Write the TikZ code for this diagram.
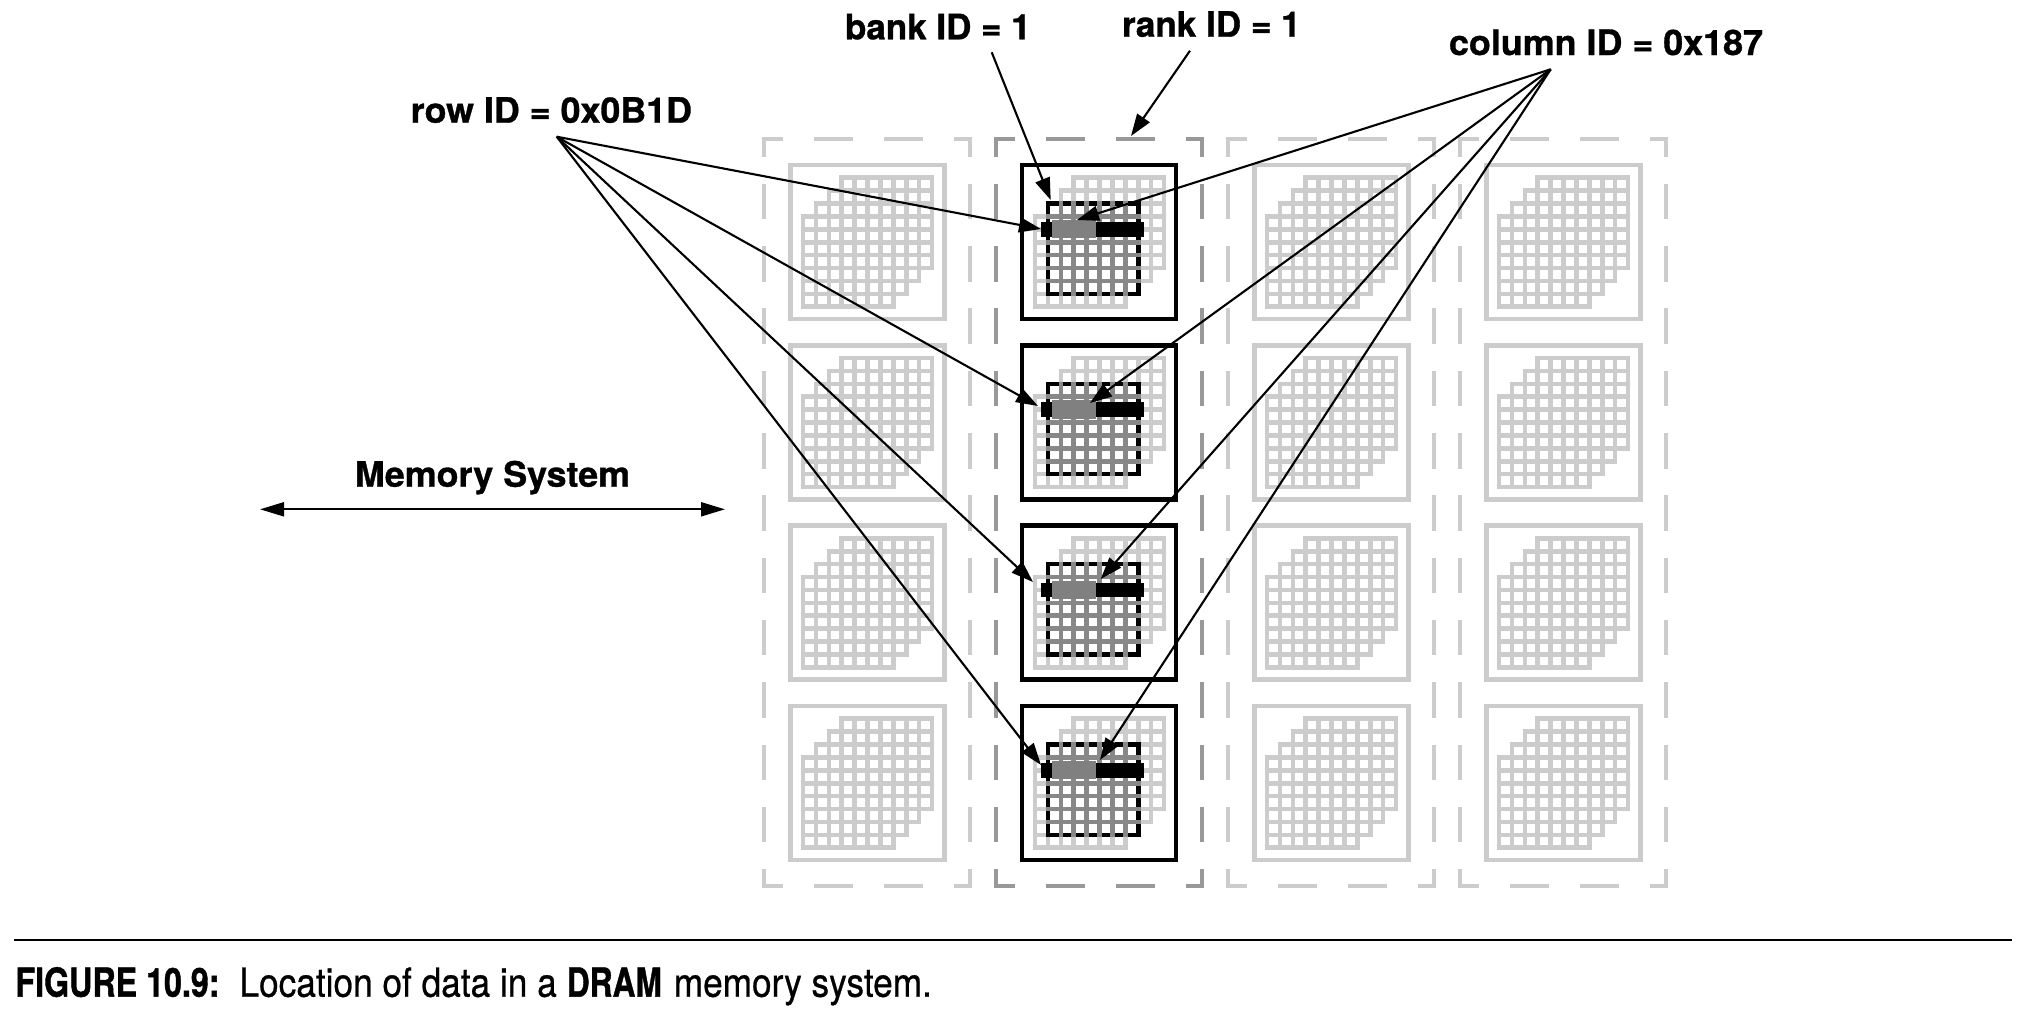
\documentclass[tikz,border=0pt]{standalone}
\usepackage{fontspec}
\usepackage{graphicx}
\setmainfont[BoldFeatures={FakeBold=0.9}]{TeX Gyre Heros}
\newfontfamily\capreg[FakeBold=0.7]{TeX Gyre Heros}
\newfontfamily\capbold[BoldFeatures={FakeBold=1.2}]{TeX Gyre Heros}
\usetikzlibrary{arrows.meta}
\definecolor{lightgr}{HTML}{CCCCCC}
\definecolor{midgr}{HTML}{999999}
\definecolor{darkgr}{HTML}{888888}
\tikzset{
  conn/.style={draw=black,line width=2.1pt,-{Triangle[length=22pt,width=15pt]}},
  bothends/.style={draw=black,line width=2.1pt,{Triangle[length=24pt,width=14pt]}-{Triangle[length=24pt,width=14pt]}},
  lbl/.style={inner sep=0pt,outer sep=0pt,anchor=base west,font=\fontsize{35}{35}\selectfont\bfseries},
  captext/.style={inner sep=0pt,outer sep=0pt,anchor=base west,font=\fontsize{40}{40}\selectfont},
  chipbox/.style={rectangle,draw=#1,line width=4.8pt,minimum width=154pt,minimum height=154pt,inner sep=0pt},
  gridline/.style={draw=#1,line width=4.6pt},
  rankdash/.style={draw=#1,line width=4.8pt},
}
\newcommand{\rankbox}[2]{% left x, colour
  \draw[rankdash=#2,dash pattern=on 39pt off 31pt,dash phase=18pt] ({#1-2},139) -- ({#1+208},139);
  \draw[rankdash=#2,dash pattern=on 39pt off 31pt,dash phase=18pt] ({#1-2},886) -- ({#1+208},886);
  \draw[rankdash=#2,dash pattern=on 35.5pt off 26.8pt,dash phase=15.5pt] (#1,137) -- (#1,888);
  \draw[rankdash=#2,dash pattern=on 35.5pt off 26.8pt,dash phase=15.5pt] ({#1+206},137) -- ({#1+206},888);
}
\newcommand{\bankgrid}[4]{% origin x, origin y, bank, colour
  \foreach \k in {0,...,7}{
    \draw[gridline=#4] ({#1+(#3+\k)*12.9},{#2+(3-#3)*12.9-2.3}) -- ++(0,{7*12.9+4.6});
    \draw[gridline=#4] ({#1+#3*12.9-2.3},{#2+(3-#3+\k)*12.9}) -- ++({7*12.9+4.6},0);
  }
}
\newcommand{\allbanks}[2]{%
  \foreach \b in {3,2,1,0}{\bankgrid{#1}{#2}{\b}{lightgr}}
}
\begin{document}
\begin{tikzpicture}[x=1pt,y=-1pt]
\useasboundingbox (0,0) rectangle (2036,1020);
\fill[white] (0,0) rectangle (2036,1020);
% ranks
\rankbox{764}{lightgr}
\rankbox{996}{midgr}
\rankbox{1228}{lightgr}
\rankbox{1460}{lightgr}
% chips of the unselected ranks
\foreach \r/\x in {0/764,2/1228,3/1460}{
  \foreach \c in {0,1,2,3}{
    \pgfmathsetmacro{\yy}{165+\c*180.33}
    \allbanks{\x+39}{\yy+12.7}
    \node[chipbox=lightgr] (chip\r\c) at ({\x+26+77.5},{\yy+77}) {};
  }
}
% chips of the selected rank
\foreach \c in {0,1,2,3}{
  \pgfmathsetmacro{\yy}{165+\c*180.33}
  \pgfmathsetmacro{\gy}{\yy+12.7}
  \allbanks{1035}{\gy}
  \draw[black,line width=4.6pt] ({1035+12.9},{\gy+2*12.9}) rectangle ({1035+8*12.9},{\gy+9*12.9});
  \foreach \k in {1,...,6}{
    \draw[gridline=darkgr] ({1035+(1+\k)*12.9},{\gy+2*12.9-2.3}) -- ++(0,{7*12.9+4.6});
    \draw[gridline=darkgr] ({1035+12.9-2.3},{\gy+(2+\k)*12.9}) -- ++({7*12.9+4.6},0);
  }
  \fill[black] (1041,{\yy+57}) rectangle (1144,{\yy+71.5});
  \fill[black!50] (1051.5,{\yy+55}) rectangle (1095.7,{\yy+73.3});
  \node[chipbox=black] (chip1\c) at (1099,{\yy+77}) {};
}
% labels
\node[lbl] (rowlab) at (410.7,122.7) {\resizebox{281.3pt}{\height}{row ID = 0x0B1D}};
\node[lbl] (banklab) at (845,39.3) {\resizebox{185.7pt}{\height}{bank ID = 1}};
\node[lbl] (ranklab) at (1122,36.7) {\resizebox{178.7pt}{\height}{rank ID = 1}};
\node[lbl] (collab) at (1449,55) {\resizebox{314pt}{\height}{column ID = 0x187}};
\node[lbl] (memlab) at (355,486.7) {\resizebox{275pt}{\height}{Memory System}};
% connector ends
\coordinate (rowsrc) at (556.7,136.7);
\coordinate (colsrc) at (1550.7,69.3);
\coordinate (banksrc) at (991.7,52.3);
\coordinate (ranksrc) at (1190,50.7);
\coordinate (rt0) at (1041,229);
\coordinate (rt1) at (1038,406);
\coordinate (rt2) at (1033,582);
\coordinate (rt3) at (1041,765);
\coordinate (ct0) at (1077,220);
\coordinate (ct1) at (1090,403);
\coordinate (ct2) at (1100.7,579);
\coordinate (ct3) at (1100,760);
\coordinate (bankt) at (1050.7,200);
\coordinate (rankt) at (1131,136);
\coordinate (memL) at (260,509.3);
\coordinate (memR) at (725,509.3);
% connectors
\foreach \c in {0,1,2,3}{
  \draw[conn] (rowsrc) -- (rt\c);
  \draw[conn] (colsrc) -- (ct\c);
}
\draw[conn] (banksrc) -- (bankt);
\draw[conn] (ranksrc) -- (rankt);
\draw[bothends] (memL) -- (memR);
% caption
\coordinate (ruleL) at (14,940);
\coordinate (ruleR) at (2011.7,940);
\draw[black,line width=2.8pt] (ruleL) -- (ruleR);
\node[captext] (caption) at (15.5,996.7) {\resizebox{204pt}{\height}{\capbold\bfseries FIGURE 10.9:}\hspace{20pt}\resizebox{317.3pt}{\height}{\capreg Location of data in a}\hspace{10pt}\resizebox{95pt}{\height}{\capbold\bfseries DRAM}\hspace{12pt}\resizebox{258pt}{\height}{\capreg memory system.}};
\end{tikzpicture}
\end{document}
